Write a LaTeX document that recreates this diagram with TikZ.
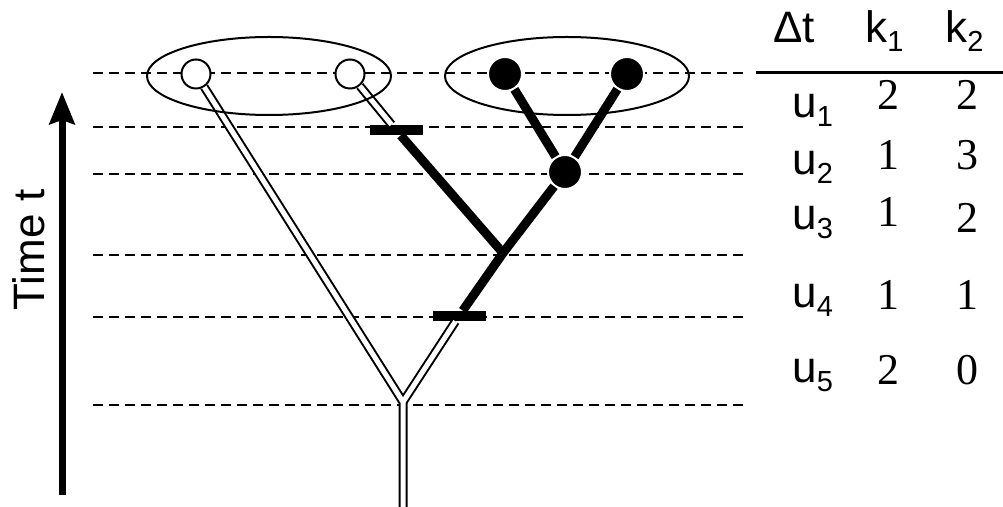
\documentclass[tikz,border=0pt]{standalone}
\usepackage{fontspec}
\setmainfont{Liberation Sans}
\newfontfamily\numfont{Liberation Serif}
\usetikzlibrary{arrows.meta,shapes.geometric}
\newcommand\lowsub[1]{\raisebox{-4.5pt}{\fontsize{14.5}{14.5}\selectfont #1}}

\begin{document}
\begin{tikzpicture}[
  x=0.5pt, y=-0.5pt,
  font=\fontsize{22}{22}\selectfont,
  guide/.style={dash pattern=on 5pt off 3pt, line width=0.6pt},
  opennode/.style={circle, draw, fill=white, line width=1pt,
                   minimum size=14.5pt, inner sep=0pt},
  fullnode/.style={circle, draw=white, fill=black, line width=1pt,
                   minimum size=17pt, inner sep=0pt},
  cutbar/.style={rectangle, fill=black, minimum width=26.5pt,
                 minimum height=5pt, inner sep=0pt},
  group/.style={ellipse, draw, line width=1pt, minimum width=122pt,
                minimum height=39pt, inner sep=0pt},
  branch/.style={line width=4.5pt},
  timearr/.style={-{Stealth[length=16pt,width=12.5pt,inset=2pt]}, line width=3.5pt},
  rule/.style={line width=1.5pt},
  cell/.style={anchor=base, inner sep=0pt},
  rowlbl/.style={anchor=base west, inner sep=0pt}
]
\useasboundingbox (0,0) rectangle (1003,507);

% time levels
\foreach \ty in {73,127,174,255,317,405}
  \draw[guide] (93,\ty) -- (743,\ty);

% tips and cuts
\node[opennode] (o1) at (196,74) {};
\node[opennode] (o2) at (350,74) {};
\node[fullnode] (f1) at (505,74) {};
\node[fullnode] (f2) at (627,74) {};
\node[fullnode] (f3) at (565,172) {};
\node[cutbar] (b1) at (396,130) {};
\node[cutbar] (b2) at (459,316) {};
\coordinate (j0) at (403,402);
\coordinate (j1) at (503,253);
\coordinate (root) at (403,507);

% unsampled lineages (outline first, then the white channel)
\foreach \w/\c in {4.5pt/black, 2.5pt/white}{
  \draw[line width=\w, draw=\c] (o1) -- (j0) -- (root);
  \draw[line width=\w, draw=\c] (b2) -- (j0);
  \draw[line width=\w, draw=\c] (o2) -- (b1);
}

% sampled tree
\draw[branch] (b2) -- (j1) -- (f3);
\draw[branch] (b1) -- (j1);
\draw[branch] (f3) -- (f1);
\draw[branch] (f3) -- (f2);

\node[group] (gopen) at (269,76) {};
\node[group] (gfull) at (567,76) {};

% time axis
\coordinate (t0) at (62,495);
\coordinate (t1) at (62,92);
\draw[timearr] (t0) -- (t1);
\node[rotate=90, anchor=base] (tlbl) at (45,250) {Time t};

% table
\node[rowlbl] (hdt) at (773,43) {Δt};
\node[rowlbl] (hk1) at (865,43) {k\lowsub{1}};
\node[rowlbl] (hk2) at (945,43) {k\lowsub{2}};
\coordinate (rs) at (756,73);
\coordinate (re) at (1003,73);
\draw[rule] (rs) -- (re);

\foreach \i/\ub/\a/\ay/\b/\by in {1/118/2/110/2/110, 2/175/1/170/3/170,
    3/230/1/227/2/233, 4/308/1/310/1/310, 5/383/2/385/0/385}{
  \node[rowlbl] (u\i) at (792,\ub) {u\lowsub{\i}};
  \node[cell] (a\i) at (888,\ay) {\numfont\a};
  \node[cell] (b\i) at (967,\by) {\numfont\b};
}
\end{tikzpicture}
\end{document}
